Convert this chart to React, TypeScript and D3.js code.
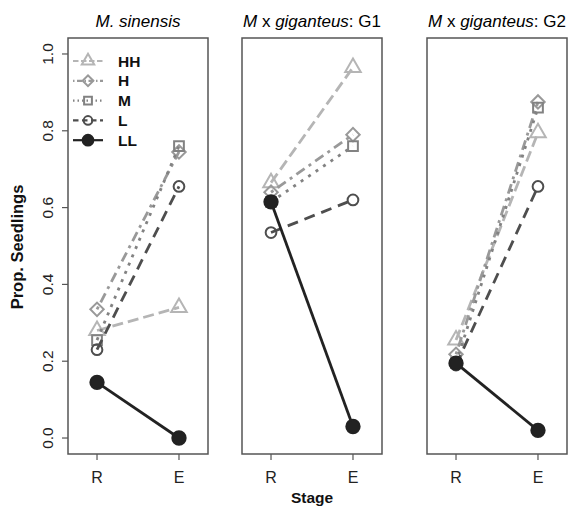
import { scaleLinear, scalePoint, symbol, symbolTriangle, symbolSquare, symbolCircle, line } from 'd3';

// stages on the x axis
const stages = ['R', 'E'];
// treatment groups, in drawing order
const groups = ['HH', 'H', 'M', 'L', 'LL'];
const yTicks = [0, 0.2, 0.4, 0.6, 0.8, 1.0];

// proportions [R, E] per group, one list per panel
const sinensisVals = [
  [0.28, 0.34],
  [0.335, 0.745],
  [0.255, 0.76],
  [0.23, 0.655],
  [0.145, 0.0],
];
const g1Vals = [
  [0.665, 0.965],
  [0.64, 0.79],
  [0.615, 0.76],
  [0.535, 0.62],
  [0.615, 0.03],
];
const g2Vals = [
  [0.255, 0.795],
  [0.218, 0.875],
  [0.195, 0.86],
  [0.19, 0.655],
  [0.195, 0.02],
];

const styles: Record<string, { color: string; dash: string; shape: any; size: number; rot: number; fill: boolean }> = {
  HH: { color: '#b5b5b5', dash: '11 5', shape: symbolTriangle, size: 105, rot: 0, fill: false },
  H: { color: '#999999', dash: '3 5 10 5', shape: symbolSquare, size: 90, rot: 45, fill: false },
  M: { color: '#828282', dash: '3 6', shape: symbolSquare, size: 95, rot: 0, fill: false },
  L: { color: '#4e4e4e', dash: '11 7', shape: symbolCircle, size: 90, rot: 0, fill: false },
  LL: { color: '#222222', dash: '', shape: symbolCircle, size: 140, rot: 0, fill: true },
};

const W = 569;
const H = 507;
const top = 38;
const bottom = 454;
const panelW = 140;
const panels = [
  { left: 68, vals: sinensisVals },
  { left: 242, vals: g1Vals },
  { left: 427, vals: g2Vals },
];

const y = scaleLinear().domain([-0.0416, 1.0416]).range([bottom, top]);
const font = 'Liberation Sans, Arial, Helvetica, sans-serif';

const Marker = ({ g, cx, cy, k = 1 }: { g: string; cx: number; cy: number; k?: number }) => {
  const s = styles[g];
  const d = symbol().type(s.shape).size(s.size * k * k)() as string;
  return (
    <path
      d={d}
      transform={`translate(${cx},${cy}) rotate(${s.rot})`}
      fill={s.fill ? s.color : 'white'}
      fillOpacity={s.fill ? 1 : 0}
      stroke={s.color}
      strokeWidth={2}
    />
  );
};

const Title = ({ x, label }: { x: number; label: string }) => {
  if (label === 'sin') {
    return (
      <text x={x} y={27} textAnchor="middle" fontSize={17} fontStyle="italic" fontFamily={font}>
        M. sinensis
      </text>
    );
  }
  return (
    <text x={x} y={27} textAnchor="middle" fontSize={17} fontFamily={font}>
      <tspan fontStyle="italic">M</tspan>
      <tspan> x </tspan>
      <tspan fontStyle="italic">giganteus</tspan>
      <tspan>: {label}</tspan>
    </text>
  );
};

export default function App() {
  const lineGen = line<[number, number]>()
    .x((d) => d[0])
    .y((d) => d[1]);

  return (
    <svg width={W} height={H} style={{ position: 'absolute', left: 0, top: 0, background: 'white' }}>
      <rect width={W} height={H} fill="white" />
      {panels.map((p, pi) => {
        const x = scalePoint<string>().domain(stages).range([p.left, p.left + panelW]).padding(0.354);
        return (
          <g key={pi}>
            {/* series */}
            {groups.map((g, gi) => {
              const pts = stages.map((st, si) => [x(st) as number, y(p.vals[gi][si])] as [number, number]);
              const s = styles[g];
              return (
                <g key={g}>
                  <path d={lineGen(pts) as string} fill="none" stroke={s.color} strokeWidth={2.8} strokeDasharray={s.dash} />
                  {pts.map((pt, k) => (
                    <Marker key={k} g={g} cx={pt[0]} cy={pt[1]} />
                  ))}
                </g>
              );
            })}
            {/* frame */}
            <rect x={p.left} y={top} width={panelW} height={bottom - top} fill="none" stroke="#555" strokeWidth={1.5} />
            {/* x axis */}
            {stages.map((st) => (
              <g key={st}>
                <line x1={x(st)} x2={x(st)} y1={bottom} y2={bottom + 6} stroke="#555" strokeWidth={1.2} />
                <text x={x(st)} y={483} textAnchor="middle" fontSize={16} fontFamily={font} fill="#222">
                  {st}
                </text>
              </g>
            ))}
          </g>
        );
      })}

      {/* y axis on first panel */}
      {yTicks.map((t) => (
        <g key={t}>
          <line x1={62} x2={68} y1={y(t)} y2={y(t)} stroke="#555" strokeWidth={1.2} />
          <text
            transform={`translate(53,${y(t)}) rotate(-90)`}
            textAnchor="middle"
            fontSize={15.5}
            fontFamily={font}
            fill="#222"
          >
            {t.toFixed(1)}
          </text>
        </g>
      ))}
      <text
        transform={`translate(23,247) rotate(-90)`}
        textAnchor="middle"
        fontSize={16.5}
        fontWeight="bold"
        fontFamily={font}
        fill="#111"
      >
        Prop. Seedlings
      </text>
      <text x={312} y={503} textAnchor="middle" fontSize={15.5} fontWeight="bold" fontFamily={font} fill="#111">
        Stage
      </text>

      {/* titles */}
      <Title x={138} label="sin" />
      <Title x={312} label="G1" />
      <Title x={497} label="G2" />

      {/* legend */}
      {groups.map((g, i) => {
        const ly = 61 + i * 19.8;
        const s = styles[g];
        return (
          <g key={g}>
            <line x1={73} x2={103} y1={ly} y2={ly} stroke={s.color} strokeWidth={2.2} strokeDasharray={s.dash ? s.dash.split(' ').map((v) => +v * 0.5).join(' ') : ''} />
            <Marker g={g} cx={88} cy={ly} k={0.8} />
            <text x={118} y={ly + 5.5} fontSize={15.5} fontWeight="bold" fontFamily={font} fill="#111">
              {g}
            </text>
          </g>
        );
      })}
    </svg>
  );
}
